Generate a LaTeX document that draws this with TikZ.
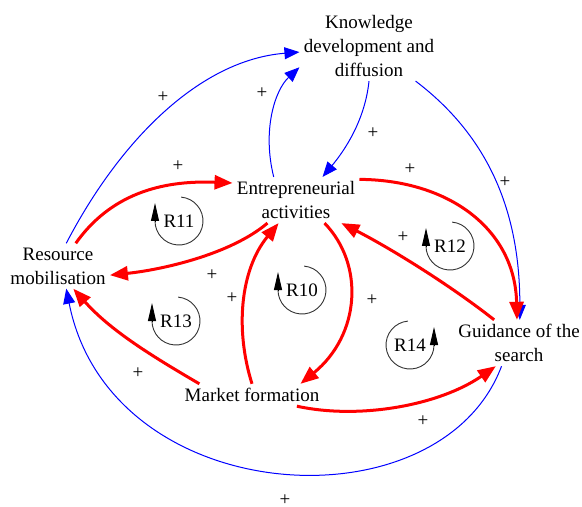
\documentclass[tikz,border=0pt]{standalone}
\usepackage{fontspec}
\setmainfont{Liberation Serif}
\usetikzlibrary{arrows.meta}

\begin{document}
\begin{tikzpicture}[x=0.5pt,y=-0.5pt,
    every node/.style={font=\fontsize{9.5}{12}\selectfont},
    factor/.style={align=center,inner sep=2pt},
    reinf/.style={red,line width=1.5pt,-{Triangle[length=9pt,width=7pt]}},
    flow/.style={blue,line width=0.5pt,-{Triangle[length=7.5pt,width=6pt]}},
    loopcirc/.style={black!80,line width=0.45pt},
    looptip/.style={line width=0.45pt,-{Triangle[length=9pt,width=4pt]}}]
    \useasboundingbox (0,0) rectangle (582,507);
    % the five functions
    \node[factor] (K) at (369,46) {Knowledge\\development and\\diffusion};
    \node[factor] (E) at (296,200) {Entrepreneurial\\activities};
    \node[factor] (R) at (58,266) {Resource\\mobilisation};
    \node[factor] (G) at (519,343) {Guidance of the\\search};
    \node[factor] (M) at (252,395) {Market formation};
    % blue links
    \draw[flow] (R.70) .. controls (120,140) and (200,60) .. (K.185);
    \draw[flow] (E.134) .. controls (262,130) and (275,90) .. (K.197);
    \draw[flow] (K.south) .. controls (365,120) and (345,150) .. (E.41);
    \draw[flow] (K.323) .. controls (480,130) and (520,200) .. (G.88);
    \draw[flow] (G.233) .. controls (440,530) and (110,510) .. (R.290);
    % red links
    \draw[reinf] (R.52) .. controls (110,195) and (160,180) .. (E.165);
    \draw[reinf] (E.219) .. controls (230,255) and (160,270) .. (R.350);
    \draw[reinf] (E.18) .. controls (450,180) and (515,230) .. (G.95);
    \draw[reinf] (G.137) .. controls (450,285) and (390,248) .. (E.333);
    \draw[reinf] (E.321) .. controls (365,265) and (360,335) .. (M.13);
    \draw[reinf] (M.north) .. controls (235,330) and (240,270) .. (E.233);
    \draw[reinf] (M.168) .. controls (150,355) and (110,330) .. (R.304);
    \draw[reinf] (M.346) .. controls (360,420) and (440,405) .. (G.225);
    % polarities
    \foreach \x/\y [count=\i] in {163/97, 262/93, 373/133, 505/182, 178/166, 212/275, 410/169,
        403/237, 232/298, 372/300, 138/373, 423/421, 285/500}
        \node (p\i) at (\x,\y) {+};
    % loops
    \node (r11) at (179,221) {R11};
    \draw[loopcirc] (r11.center) ++(85:12pt) arc[start angle=85,end angle=-180,radius=12pt];
    \draw[looptip] ([xshift=-12pt]r11.center) -- ++(0pt,9pt);
    \node (r12) at (450,246) {R12};
    \draw[loopcirc] (r12.center) ++(85:12pt) arc[start angle=85,end angle=-180,radius=12pt];
    \draw[looptip] ([xshift=-12pt]r12.center) -- ++(0pt,9pt);
    \node (r10) at (302,290) {R10};
    \draw[loopcirc] (r10.center) ++(85:12pt) arc[start angle=85,end angle=-180,radius=12pt];
    \draw[looptip] ([xshift=-12pt]r10.center) -- ++(0pt,9pt);
    \node (r13) at (176,321) {R13};
    \draw[loopcirc] (r13.center) ++(85:12pt) arc[start angle=85,end angle=-180,radius=12pt];
    \draw[looptip] ([xshift=-12pt]r13.center) -- ++(0pt,9pt);
    \node (r14) at (410,345) {R14};
    \draw[loopcirc] (r14.center) ++(95:12pt) arc[start angle=95,end angle=360,radius=12pt];
    \draw[looptip] ([xshift=12pt]r14.center) -- ++(0pt,9pt);
\end{tikzpicture}
\end{document}
